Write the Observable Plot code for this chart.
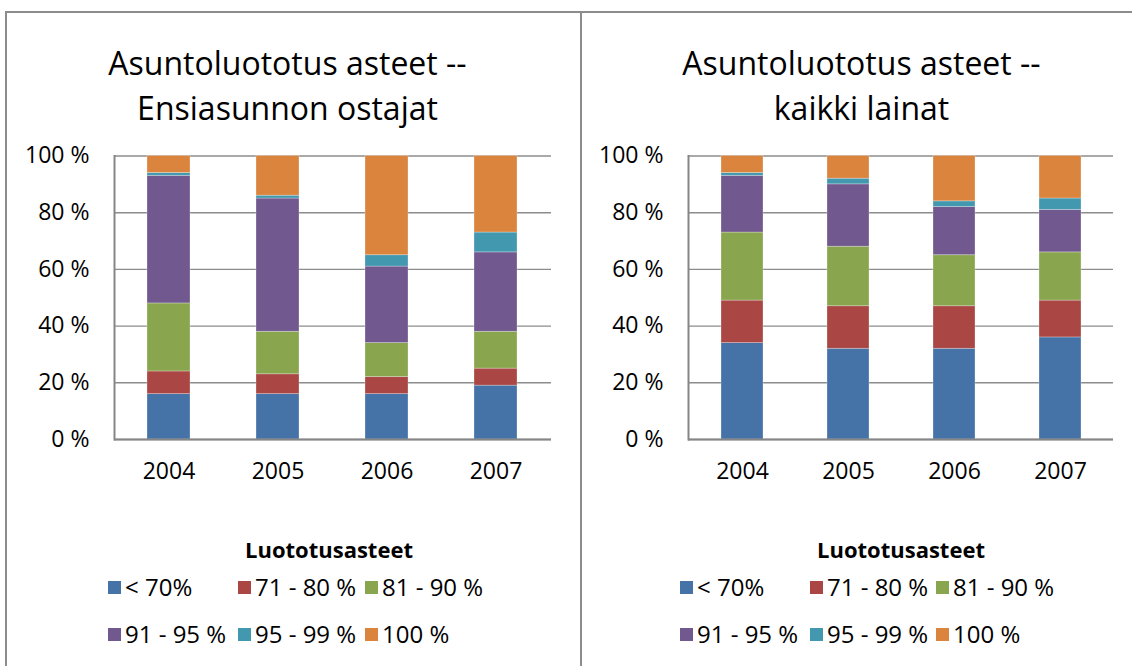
<!DOCTYPE html>
<html>
<head>
<meta charset="utf-8">
<script src="https://cdn.jsdelivr.net/npm/d3@7"></script>
<script src="https://cdn.jsdelivr.net/npm/@observablehq/plot@0.6"></script>
<style>
  body { margin: 0; background: #fff; }
  #wrap { position: relative; width: 1132px; height: 666px; overflow: hidden; background: #fff; font-family: "Open Sans", sans-serif; color: #000; }
  .panel { position: absolute; top: 11px; height: 700px; border-top: 2px solid #8c8c8c; box-sizing: border-box; }
  .title { position: absolute; text-align: center; font-size: 32px; line-height: 45px; white-space: nowrap; }
  .ltitle { position: absolute; text-align: center; font-size: 22px; font-weight: bold; line-height: 30px; white-space: nowrap; }
  .item { position: absolute; font-size: 24px; line-height: 30px; white-space: nowrap; }
  .sw { position: absolute; width: 13px; height: 13px; }
  .chart { position: absolute; top: 140px; }
</style>
</head>
<body>
<div id="wrap"></div>
<script>
// ---- data ----
const years = ["2004", "2005", "2006", "2007"];
const categories = ["< 70%", "71 - 80 %", "81 - 90 %", "91 - 95 %", "95 - 99 %", "100 %"];
const colors = ["#4572A7", "#AA4643", "#89A54E", "#71588F", "#4198AF", "#DB843D"];
const yTicks = [0, 20, 40, 60, 80, 100];

// Ensiasunnon ostajat (first-time buyers), one array per category, by year
const firstLt70   = [16, 16, 16, 19];
const first71_80  = [8, 7, 6, 6];
const first81_90  = [24, 15, 12, 13];
const first91_95  = [45, 47, 27, 28];
const first95_99  = [1, 1, 4, 7];
const first100    = [6, 14, 35, 27];

// Kaikki lainat (all loans)
const allLt70   = [34, 32, 32, 36];
const all71_80  = [15, 15, 15, 13];
const all81_90  = [24, 21, 18, 17];
const all91_95  = [20, 22, 17, 15];
const all95_99  = [1, 2, 2, 4];
const all100    = [6, 8, 16, 15];

const titleLeft = ["Asuntoluototus asteet --", "Ensiasunnon ostajat"];
const titleRight = ["Asuntoluototus asteet --", "kaikki lainat"];
const legendTitle = "Luototusasteet";

function toRows(series) {
  const rows = [];
  categories.forEach((c, ci) => {
    years.forEach((y, yi) => rows.push({year: y, cat: c, value: series[ci][yi]}));
  });
  return rows;
}
const leftRows = toRows([firstLt70, first71_80, first81_90, first91_95, first95_99, first100]);
const rightRows = toRows([allLt70, all71_80, all81_90, all91_95, all95_99, all100]);

const wrap = document.getElementById("wrap");

function el(tag, cls, css, text) {
  const e = document.createElement(tag);
  if (cls) e.className = cls;
  Object.assign(e.style, css);
  if (text != null) e.textContent = text;
  wrap.appendChild(e);
  return e;
}

// panel frames
el("div", "panel", {left: "5px", width: "577px", borderLeft: "2px solid #8c8c8c", borderRight: "2px solid #8c8c8c"});
el("div", "panel", {left: "580px", width: "560px"});

function makeChart(rows, left, width, mLeft, mRight) {
  const chart = Plot.plot({
    width: width,
    height: 359,
    marginTop: 15.5,
    marginBottom: 60,
    marginLeft: mLeft,
    marginRight: mRight,
    style: {fontFamily: "Open Sans", fontSize: "23px", color: "#000", background: "transparent", overflow: "visible"},
    x: {domain: years, paddingInner: 0.604, paddingOuter: 0.302, tickSize: 0, tickPadding: 23, label: null},
    y: {domain: [0, 100], ticks: yTicks, tickFormat: d => d + " %", tickSize: 0, tickPadding: 25, label: null},
    color: {domain: categories, range: colors},
    marks: [
      Plot.ruleY(yTicks, {stroke: "#8c8c8c", strokeWidth: 1.4}),
      Plot.barY(rows, {x: "year", y: "value", fill: "cat", stroke: "#ffffff", strokeOpacity: 0.35, strokeWidth: 0.8}),
      Plot.ruleY([0], {stroke: "#868686", strokeWidth: 2}),
      Plot.frame({anchor: "left", stroke: "#868686", strokeWidth: 2})
    ]
  });
  chart.classList.add("chart");
  chart.style.left = left + "px";
  wrap.appendChild(chart);
}

makeChart(leftRows, 0, 580, 114, 29);
makeChart(rightRows, 580, 552, 108, 19);

function titles(lines, left) {
  const d = el("div", "title", {left: left + "px", width: "575px", top: "39.5px"});
  d.innerHTML = lines.map(s => s.replace(/&/g, "&amp;").replace(/</g, "&lt;")).join("<br>");
}
titles(titleLeft, 0);
titles(titleRight, 574);

function legend(titleCenter, cols) {
  el("div", "ltitle", {left: (titleCenter - 150) + "px", width: "300px", top: "534px"}, legendTitle);
  const rowsY = [587, 634];
  categories.forEach((c, i) => {
    const r = Math.floor(i / 3), k = i % 3;
    const x = cols[k], cy = rowsY[r];
    el("div", "sw", {left: x + "px", top: (cy - 6.5) + "px", background: colors[i]});
    el("div", "item", {left: (x + 17) + "px", top: (cy - 15) + "px"}, c);
  });
}
legend(329, [108, 238, 365]);
legend(901, [680, 810, 936]);
</script>
</body>
</html>
